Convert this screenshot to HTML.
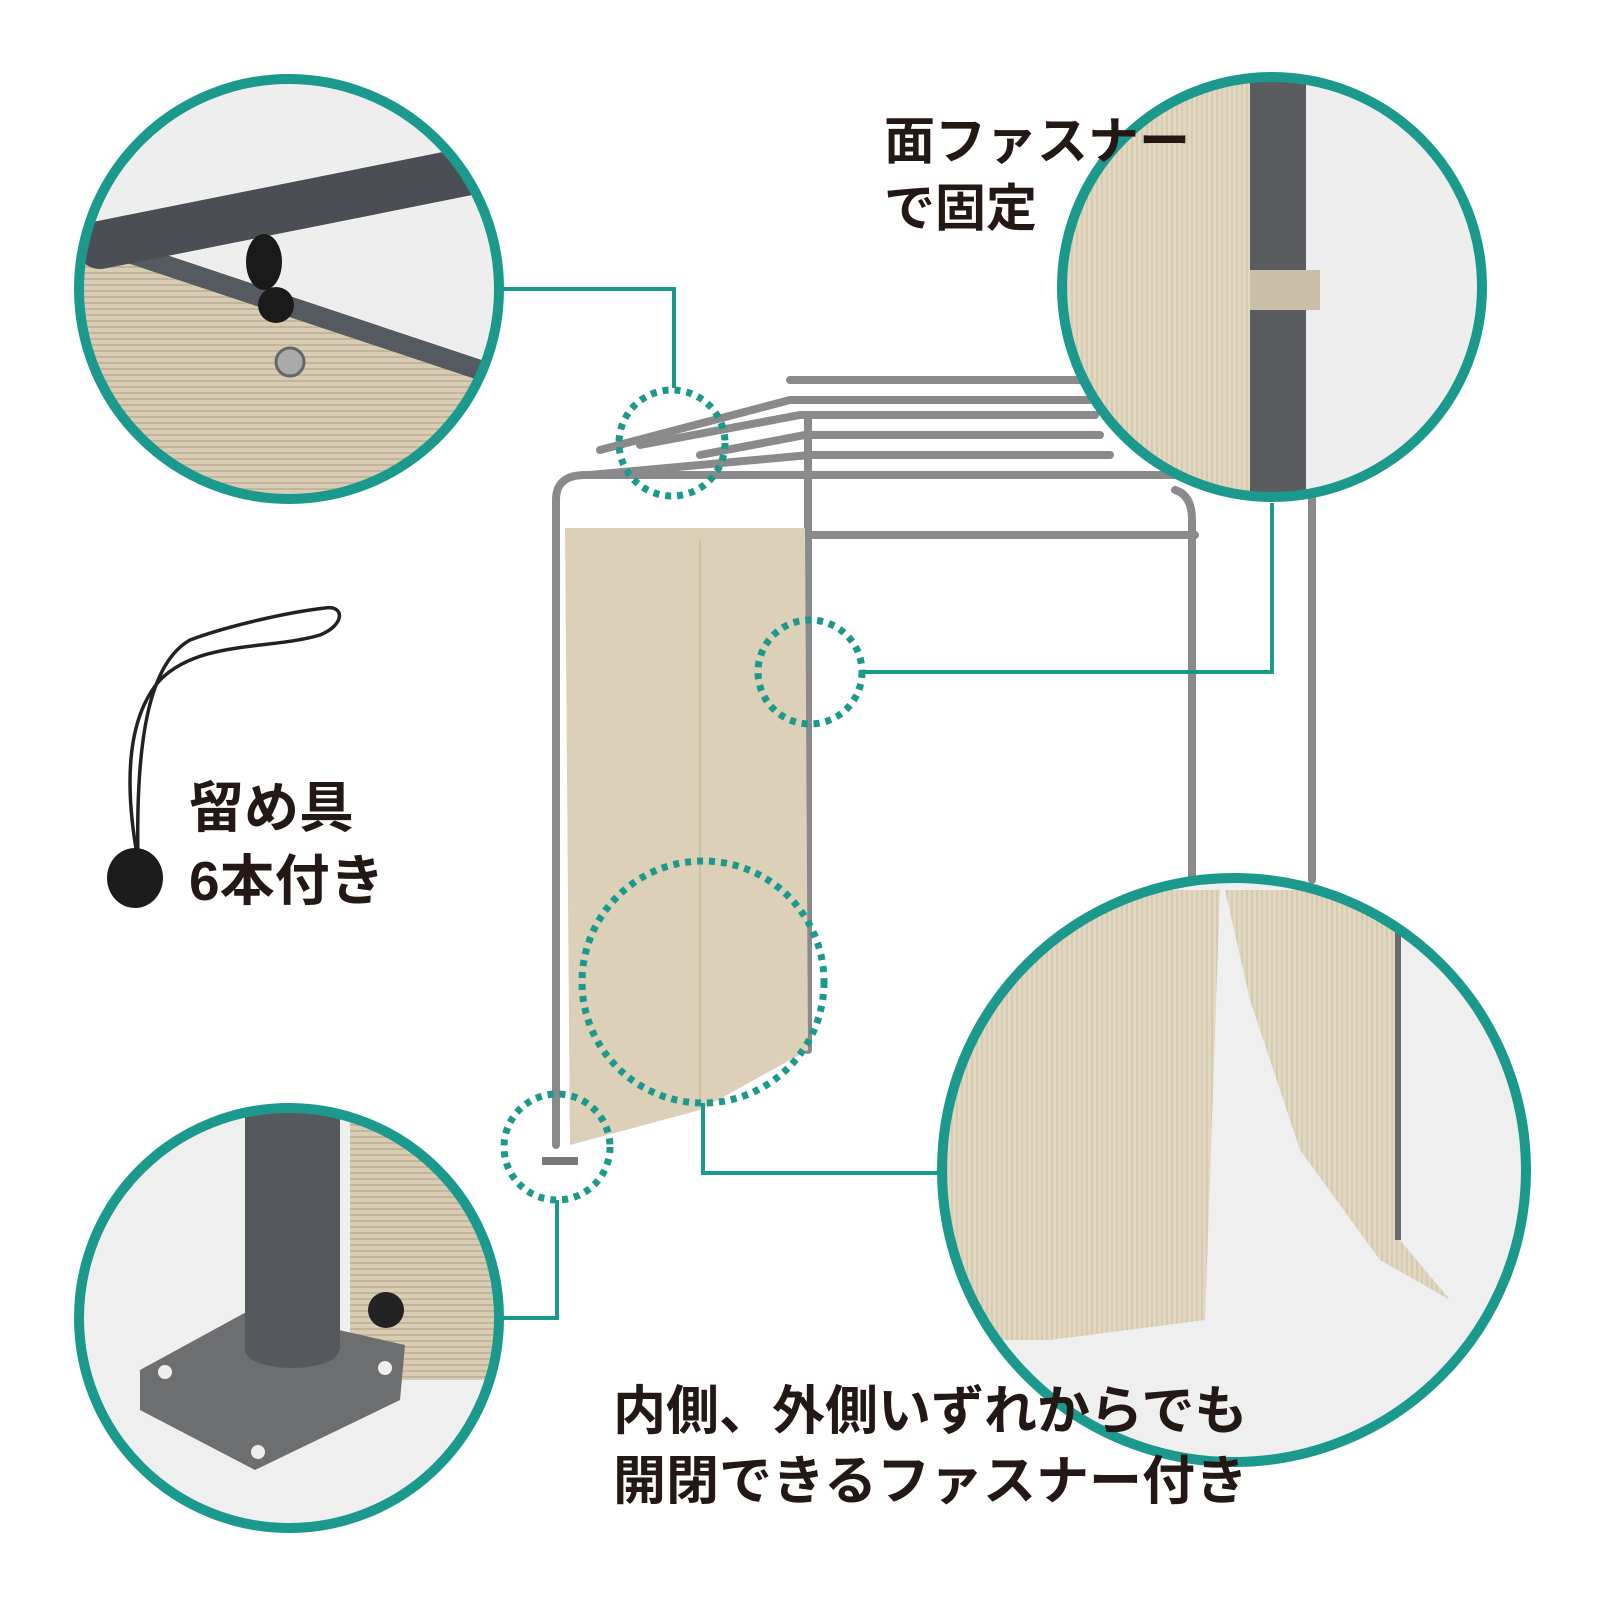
<!DOCTYPE html>
<html><head><meta charset="utf-8"><style>
html,body{margin:0;padding:0;background:#fff}
.t{position:absolute;font-family:"Liberation Sans","Noto Sans CJK JP",sans-serif;font-weight:700;color:#231815;line-height:1.32}
</style></head><body>
<div style="position:relative;width:1600px;height:1600px;overflow:hidden">
<svg width="1600" height="1600" viewBox="0 0 1600 1600" style="position:absolute;left:0;top:0">
<defs>
<clipPath id="c1"><circle cx="289" cy="289" r="210"/></clipPath>
<clipPath id="c2"><circle cx="1272" cy="287" r="210"/></clipPath>
<clipPath id="c3"><circle cx="289" cy="1318" r="210"/></clipPath>
<clipPath id="c4"><circle cx="1234" cy="1170" r="292"/></clipPath>
<pattern id="wv" width="6" height="6" patternUnits="userSpaceOnUse"><rect width="6" height="6" fill="#d8ccb4"/><path d="M0 3h6" stroke="#c2b59b" stroke-width="2"/></pattern>
<pattern id="vs" width="5" height="10" patternUnits="userSpaceOnUse"><rect width="5" height="10" fill="#e2d7c1"/><path d="M2 0v10" stroke="#d2c5aa" stroke-width="1.5"/></pattern>
</defs>
<g stroke="#8a8a8c" stroke-width="8" fill="none" stroke-linecap="round">
<path d="M556 1145 V500 Q556 475 585 475 H1175"/>
<path d="M1192 1140 V520 Q1192 495 1175 490"/>
<path d="M808 1050 V420"/>
<path d="M1312 880 V480"/>
<path d="M575 535 H1195"/>
<path d="M600 450 L790 400 H1090"/>
<path d="M640 445 L800 415 H1095"/>
<path d="M700 455 L805 435 H1100"/>
<path d="M590 475 L810 455 H1110"/>
<path d="M790 380 H1080"/>
</g>
<path d="M565 528 L805 528 L808 1050 L700 1110 L570 1145 Z" fill="#ddd0b8"/>
<path d="M700 540 V1100" stroke="#cfc1a6" stroke-width="2"/>
<rect x="542" y="1157" width="36" height="8" fill="#777"/>
<g clip-path="url(#c1)">
<rect x="70" y="70" width="440" height="440" fill="#eeeeee"/>
<path d="M70 235 L250 300 L490 365 L490 520 L70 520Z" fill="url(#wv)"/>
<path d="M90 240 L480 370" stroke="#555a60" stroke-width="20"/>
<path d="M100 245 L500 165" stroke="#4b4f55" stroke-width="48" stroke-linecap="round"/>
<ellipse cx="264" cy="262" rx="18" ry="28" fill="#1a1a1a"/>
<circle cx="276" cy="305" r="18" fill="#1a1a1a"/>
<circle cx="290" cy="362" r="14" fill="#aaa" stroke="#666" stroke-width="3"/>
</g>
<circle cx="289" cy="289" r="210" fill="none" stroke="#1a998c" stroke-width="10"/>
<g clip-path="url(#c2)">
<rect x="1060" y="75" width="430" height="430" fill="#eeeeee"/>
<rect x="1060" y="75" width="220" height="430" fill="url(#vs)"/>
<rect x="1250" y="75" width="56" height="430" fill="#5a5c60"/>
<rect x="1250" y="270" width="70" height="40" fill="#c9bea6"/>
</g>
<circle cx="1272" cy="287" r="210" fill="none" stroke="#1a998c" stroke-width="10"/>
<g clip-path="url(#c3)">
<rect x="70" y="1100" width="440" height="440" fill="#efefef"/>
<rect x="350" y="1100" width="160" height="280" fill="url(#wv)"/>
<path d="M140 1370 L250 1310 L405 1345 L400 1400 L255 1470 L140 1410Z" fill="#6d6e70"/>
<g fill="#eee"><circle cx="165" cy="1372" r="7"/><circle cx="385" cy="1368" r="7"/><circle cx="258" cy="1452" r="7"/></g>
<rect x="245" y="1100" width="95" height="250" fill="#55585c"/>
<ellipse cx="292" cy="1350" rx="47" ry="18" fill="#55585c"/>
<circle cx="386" cy="1310" r="18" fill="#222"/>
</g>
<circle cx="289" cy="1318" r="210" fill="none" stroke="#1a998c" stroke-width="10"/>
<g clip-path="url(#c4)">
<rect x="940" y="875" width="590" height="590" fill="#efefef"/>
<path d="M940 890 L1220 890 L1205 1320 L1050 1340 L940 1340Z" fill="url(#vs)"/>
<path d="M1225 890 L1395 890 L1400 1240 L1450 1300 L1380 1260 L1300 1150 L1250 1000Z" fill="url(#vs)"/>
<path d="M1398 900 V1240" stroke="#6a6a6a" stroke-width="6"/>
</g>
<circle cx="1234" cy="1170" r="292" fill="none" stroke="#1a998c" stroke-width="10"/>
<g fill="none" stroke="#1a998c" stroke-width="7" stroke-dasharray="6 6">
<circle cx="672" cy="443" r="53"/>
<circle cx="810" cy="672" r="52"/>
<circle cx="703" cy="982" r="121"/>
<circle cx="557" cy="1147" r="53"/>
</g>
<g fill="none" stroke="#1a998c" stroke-width="4">
<path d="M503 289 H674 V388"/>
<path d="M865 672 H1272 V503"/>
<path d="M703 1103 V1173 H944"/>
<path d="M557 1200 V1318 H503"/>
</g>
<g fill="none" stroke="#222" stroke-width="3.5">
<path d="M138 860 C125 790 125 720 160 680 C200 640 270 650 320 635 C345 625 345 605 325 608 C290 612 230 625 190 640 C155 660 135 720 138 860"/>
</g>
<ellipse cx="135" cy="878" rx="28" ry="30" fill="#1c1c1c"/>
</svg>
<div class="t" style="left:884px;top:108px;font-size:51px">面ファスナー<br>で固定</div>
<div class="t" style="left:189px;top:772px;font-size:55px">留め具<br>6本付き</div>
<div class="t" style="left:613px;top:1377px;font-size:53px">内側、外側いずれからでも<br>開閉できるファスナー付き</div>
</div>
</body></html>
